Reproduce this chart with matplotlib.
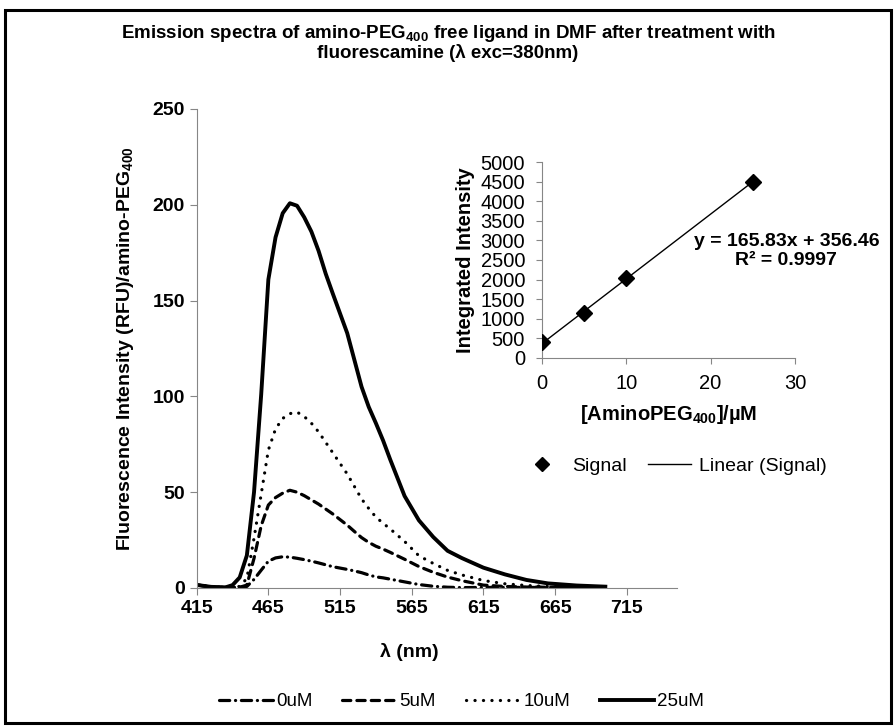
import matplotlib
matplotlib.use("Agg")
import matplotlib.pyplot as plt
from matplotlib.patches import Rectangle
from matplotlib.lines import Line2D

plt.rcParams['font.family'] = ['Liberation Sans', 'DejaVu Sans']
plt.rcParams['mathtext.fontset'] = 'custom'
plt.rcParams['mathtext.rm'] = 'Liberation Sans'
plt.rcParams['mathtext.bf'] = 'Liberation Sans:bold'

# emission spectra (RFU per amino-PEG400), lambda exc = 380 nm
wavelength = [415, 425, 435, 440, 445, 450, 455, 460, 465, 470, 475, 480, 485, 490,
              495, 500, 505, 510, 520, 525, 530, 535, 540, 545, 550, 560, 570, 580,
              590, 600, 615, 630, 645, 660, 680, 700]
em_0uM = [1.6, 0.6, 0.3, 0.3, 0.3, 0.8, 4.5, 9.3, 14.0, 15.7, 16.3, 16.1, 15.5, 14.8,
          14.0, 13.1, 12.1, 11.1, 9.7, 8.9, 8.0, 6.8, 5.8, 5.3, 4.6, 3.2, 1.8, 0.9,
          0.4, 0.2, 0.3, 0.3, 0.3, 0.3, 0.3, 0.3]
em_5uM = [1.6, 0.6, 0.3, 0.3, 0.4, 1.5, 15.5, 32.5, 43.3, 47.2, 49.5, 51.0, 50.0, 48.2,
          46.0, 43.8, 41.2, 38.6, 32.8, 29.5, 26.3, 23.8, 21.8, 20.3, 18.6, 15.0, 11.2, 8.2,
          5.7, 3.8, 1.5, 0.8, 0.5, 0.4, 0.3, 0.3]
em_10uM = [1.6, 0.6, 0.3, 0.5, 0.8, 5.0, 26.0, 49.0, 72.0, 83.0, 88.5, 91.0, 91.8, 89.5,
           86.0, 81.5, 76.0, 70.5, 59.5, 53.0, 46.5, 41.5, 37.0, 33.8, 30.8, 24.3, 16.8, 12.8,
           9.2, 6.8, 3.9, 2.2, 1.3, 0.8, 0.5, 0.4]
em_25uM = [1.6, 0.6, 0.3, 1.5, 5.5, 17.0, 50.0, 101.0, 161.0, 183.0, 195.6, 200.8, 199.5, 193.5,
           186.0, 176.0, 164.0, 153.5, 133.0, 119.0, 105.0, 94.5, 86.0, 77.0, 67.0, 48.0, 35.3, 26.6,
           19.4, 15.6, 10.6, 7.1, 4.2, 2.4, 1.3, 0.7]

# calibration: integrated intensity vs concentration
conc = [0, 5, 10, 25]
integrated = [390, 1150, 2035, 4505]
slope = 165.83
intercept = 356.46
r_squared = 0.9997

x_ticks = [415, 465, 515, 565, 615, 665, 715]
y_ticks = [0, 50, 100, 150, 200, 250]

fig = plt.figure(figsize=(8.96, 7.27), dpi=100)
fig.patches.append(Rectangle((0.006, 0.006), 0.988, 0.980, transform=fig.transFigure,
                             fill=False, edgecolor='black', linewidth=2.2))

fig.text(0.5, 1 - 33 / 727,
         "Emission spectra of amino-PEG$_{\\mathbf{400}}$ free ligand in DMF after treatment with",
         ha='center', va='center', fontsize=13.5, fontweight='bold')
fig.text(0.5, 1 - 53 / 727, "fluorescamine (λ exc=380nm)",
         ha='center', va='center', fontsize=13.5, fontweight='bold')

ax = fig.add_axes([0.2195, 0.1912, 0.5361, 0.6589])
lw = 2.3
ax.plot(wavelength, em_0uM, color='black', lw=lw, dashes=(3.2, 1.8, 0.05, 1.8),
        dash_capstyle='round', label='0uM')
ax.plot(wavelength, em_5uM, color='black', lw=lw, dashes=(2.6, 1.9),
        dash_capstyle='round', label='5uM')
ax.plot(wavelength, em_10uM, color='black', lw=lw, dashes=(0.05, 2.6),
        dash_capstyle='round', label='10uM')
ax.plot(wavelength, em_25uM, color='black', lw=2.8, label='25uM')

ax.set_xlim(415, 750)
ax.set_ylim(0, 250)
ax.set_xticks(x_ticks)
ax.set_yticks(y_ticks)
for s in ['top', 'right']:
    ax.spines[s].set_visible(False)
for s in ['left', 'bottom']:
    ax.spines[s].set_color('#868686')
ax.tick_params(colors='#868686', labelcolor='black', labelsize=14, length=5, direction='out')
for lab in ax.get_xticklabels() + ax.get_yticklabels():
    lab.set_fontweight('bold')
ax.set_xlabel("λ (nm)", fontsize=14, fontweight='bold')
ax.xaxis.set_label_coords(0.442, -0.134)
ax.xaxis.label.set_verticalalignment('center')
ax.set_ylabel("Fluorescence Intensity (RFU)/amino-PEG$_{\\mathbf{400}}$",
              fontsize=14, fontweight='bold', labelpad=12)

fig.legend(loc='center', bbox_to_anchor=(0.515, 0.035), ncol=4, frameon=False,
           fontsize=13.5, handlelength=2.9, handletextpad=0.15, columnspacing=1.6)

# inset calibration plot
ins = fig.add_axes([0.6046, 0.508, 0.2827, 0.2688])
fit_x = [conc[0], conc[-1]]
fit_y = [slope * c + intercept for c in fit_x]
ins.plot(fit_x, fit_y, color='black', lw=1.0, label='Linear (Signal)', zorder=2)
ins.plot(conc, integrated, linestyle='none', marker='D', markersize=8,
         color='black', label='Signal', zorder=3)
ins.set_xlim(0, 30)
ins.set_ylim(0, 5000)
ins.set_xticks([0, 10, 20, 30])
ins.set_yticks(range(0, 5001, 500))
for s in ['top', 'right']:
    ins.spines[s].set_visible(False)
for s in ['left', 'bottom']:
    ins.spines[s].set_color('#868686')
ins.tick_params(colors='#868686', labelcolor='black', labelsize=14.5, length=4)
ins.tick_params(axis='y', pad=8)
ins.tick_params(axis='x', pad=8)
ins.set_ylabel("Integrated Intensity", fontsize=14.5, fontweight='bold', labelpad=4)
ins.set_xlabel("[AminoPEG$_{\\mathbf{400}}$]/µM", fontsize=14.5, fontweight='bold', labelpad=7)
ins.text(0.966, 0.545, "y = %.2fx + %.2f\nR² = %.4f" % (slope, intercept, r_squared),
         transform=ins.transAxes, ha='center', va='center', fontsize=14,
         fontweight='bold', linespacing=1.2)

handles = [Line2D([], [], linestyle='none', marker='D', markersize=7, color='black'),
           Line2D([], [], color='black', lw=1.0)]
fig.legend(handles, ['Signal', 'Linear (Signal)'], loc='center',
           bbox_to_anchor=(0.752, 1 - 466 / 727), ncol=2, frameon=False, fontsize=14,
           handlelength=2.2, handletextpad=0.45, columnspacing=1.1)

fig.savefig("out.png", dpi=100)
